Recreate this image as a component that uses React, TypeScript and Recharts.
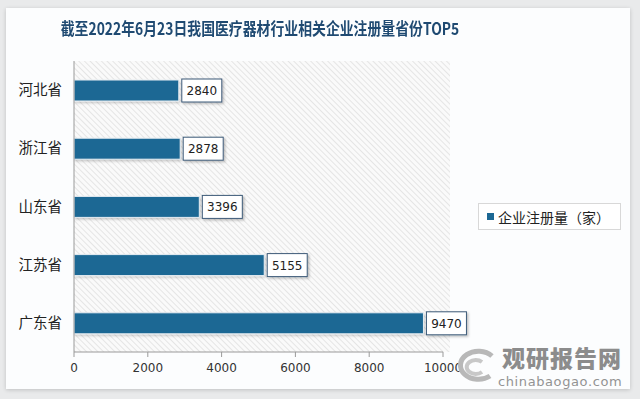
import React from "react";
import { BarChart, Bar, XAxis, YAxis, LabelList } from "recharts";

const provinces = ["河北省", "浙江省", "山东省", "江苏省", "广东省"];
const registrations = [2840, 2878, 3396, 5155, 9470];
const xTicks = [0, 2000, 4000, 6000, 8000, 10000];
const titleText = "截至2022年6月23日我国医疗器材行业相关企业注册量省份TOP5";
const seriesName = "企业注册量（家）";

const data = provinces.map((p, i) => ({ name: p, value: registrations[i] }));

const BAR_COLOR = "#1c6894";
const CJK = '"Noto Sans CJK SC", "Noto Sans", sans-serif';
const NUM = '"DejaVu Sans", Verdana, sans-serif';

const ValueLabel = (props: any) => {
  const { x, y, width, height, value } = props;
  const bx = x + width + 3;
  const bw = 40;
  const bh = 23;
  const by = y + height / 2 - bh / 2;
  return (
    <g>
      <rect x={bx} y={by} width={bw} height={bh} fill="#fff" stroke="#3d5a78" strokeWidth={1} filter="url(#lblShadow)" />
      <text x={bx + bw / 2} y={by + bh / 2 + 1} textAnchor="middle" dominantBaseline="middle" fontFamily={NUM} fontSize={12} fill="#222">
        {value}
      </text>
    </g>
  );
};

export default function App() {
  return (
    <div style={{ position: "absolute", left: 0, top: 0, width: 640, height: 399, background: "#e9eaeb", overflow: "hidden" }}>
      <div style={{ position: "absolute", left: 6, top: 8, width: 624, height: 381, background: "#fcfdfe", boxShadow: "0 1px 4px rgba(0,0,0,0.18)" }} />
      <div style={{ position: "absolute", left: 0, width: 520, top: 16, textAlign: "center", fontFamily: CJK, fontWeight: 700, fontSize: 16.5, color: "#1f4a72", transform: "scaleX(0.84)", transformOrigin: "260px 0" }}>
        {titleText}
      </div>
      <div style={{ position: "absolute", left: 0, top: 0 }}>
        <BarChart width={640} height={399} data={data} layout="vertical" margin={{ top: 61, right: 197, bottom: 17, left: 14 }} barSize={21}>
          <defs>
            <pattern id="hatch" width="4" height="4" patternUnits="userSpaceOnUse" patternTransform="rotate(-45)">
              <rect width="4" height="4" fill="#fafafa" />
              <line x1="0" y1="0" x2="0" y2="4" stroke="#dcdcdc" strokeWidth="1.4" />
            </pattern>
            <filter id="lblShadow" x="-20%" y="-20%" width="150%" height="160%">
              <feDropShadow dx="1.5" dy="1.5" stdDeviation="1" floodColor="#000" floodOpacity="0.25" />
            </filter>
            <filter id="barShadow" x="-5%" y="-20%" width="110%" height="160%">
              <feDropShadow dx="1" dy="1.5" stdDeviation="1" floodColor="#000" floodOpacity="0.2" />
            </filter>
          </defs>
          <rect x={74} y={61} width={376} height={291} fill="url(#hatch)" />
          <XAxis
            type="number"
            domain={[0, 10000]}
            ticks={xTicks}
            axisLine={{ stroke: "#9a9a9a" }}
            tickLine={{ stroke: "#9a9a9a" }}
            tickSize={5}
            tickMargin={6}
            height={30}
            tick={{ fontFamily: NUM, fontSize: 12, fill: "#333" }}
            interval={0}
          />
          <YAxis
            type="category"
            dataKey="name"
            width={60}
            axisLine={{ stroke: "#9a9a9a" }}
            tickLine={false}
            tickSize={0}
            tickMargin={12}
            tick={{ fontFamily: CJK, fontSize: 14.5, fill: "#222" }}
          />
          <Bar dataKey="value" fill={BAR_COLOR} stroke="#e8eef3" strokeWidth={1} isAnimationActive={false} filter="url(#barShadow)">
            <LabelList dataKey="value" content={ValueLabel} />
          </Bar>
        </BarChart>
      </div>
      <div style={{ position: "absolute", left: 478, top: 203, width: 141, height: 25, border: "1px solid #d8d8d8", background: "#fff", display: "flex", alignItems: "center", fontFamily: CJK, fontSize: 14, color: "#222" }}>
        <span style={{ display: "inline-block", width: 7, height: 7, background: BAR_COLOR, marginLeft: 8, marginRight: 4 }} />
        {seriesName}
      </div>
      <svg style={{ position: "absolute", left: 452, top: 344 }} width={50} height={44}>
        <path d="M40 12 A18 14 0 1 0 38 32" fill="none" stroke="#b8b8b8" strokeWidth={5} />
        <path d="M30 18 A9 7 0 1 0 30 28" fill="none" stroke="#c8c8c8" strokeWidth={4} />
      </svg>
      <div style={{ position: "absolute", left: 502, top: 345, fontFamily: CJK, fontWeight: 900, fontSize: 23, color: "#8c8c8c", letterSpacing: 1, lineHeight: "24px" }}>
        观研报告网
      </div>
      <div style={{ position: "absolute", left: 498, top: 374, fontFamily: NUM, fontSize: 13, color: "#939393", letterSpacing: 0.6, lineHeight: "15px" }}>
        chinabaogao.com
      </div>
    </div>
  );
}
